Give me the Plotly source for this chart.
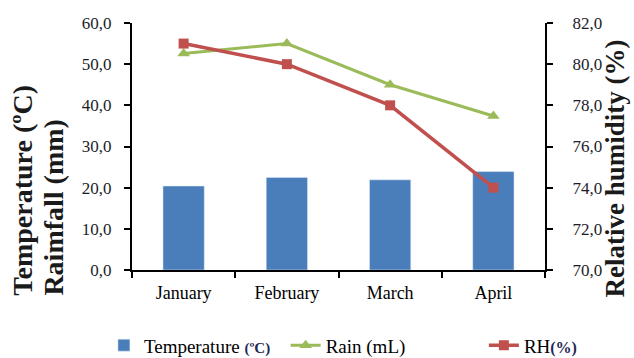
import plotly.graph_objects as go

months = ["January", "February", "March", "April"]
temperature = [20.4, 22.5, 21.9, 23.9]
rain = [52.6, 55.0, 45.0, 37.4]
rh = [81.0, 80.0, 78.0, 74.0]

left_ticks = [0, 10, 20, 30, 40, 50, 60]
right_ticks = [70, 72, 74, 76, 78, 80, 82]

SERIF = "Liberation Serif"
TICK_COLOR = "#1c1c28"
UNIT_COLOR = "#1f2a55"
TITLE_FONT = dict(family=SERIF, size=28, color="#1a1a1a")

fig = go.Figure()

fig.add_trace(go.Bar(
    x=months, y=temperature,
    name=f"Temperature <b><span style='font-size:15px;color:{UNIT_COLOR}'>(ºC)</span></b>",
    marker=dict(color="#4a7ebb"),
    yaxis="y", legend="legend",
))
fig.add_trace(go.Scatter(
    x=months, y=rain, name="Rain (mL)", mode="lines+markers",
    line=dict(color="#9bbb59", width=3),
    marker=dict(symbol="triangle-up", size=11, color="#9bbb59"),
    yaxis="y", legend="legend2",
))
fig.add_trace(go.Scatter(
    x=months, y=rh, name=f"RH<b><span style='font-size:16px;color:{UNIT_COLOR}'>(%)</span></b>",
    mode="lines+markers",
    line=dict(color="#c0504d", width=3.5),
    marker=dict(symbol="square", size=10, color="#c0504d"),
    yaxis="y2", legend="legend3",
))

legend_style = dict(
    orientation="h", xanchor="left", y=-0.228, yanchor="top",
    font=dict(family=SERIF, size=19, color="black"),
    bgcolor="rgba(0,0,0,0)",
)

fig.update_layout(
    width=634, height=358,
    margin=dict(l=132, r=89, t=23, b=88, autoexpand=False),
    paper_bgcolor="white", plot_bgcolor="white",
    separators=", ",
    font=dict(family=SERIF, color="black"),
    bargap=0.6,
    showlegend=True,
    legend=dict(legend_style, x=-0.068),
    legend2=dict(legend_style, x=0.372),
    legend3=dict(legend_style, x=0.852),
    xaxis=dict(
        type="category", showline=True, linecolor="black", linewidth=2,
        ticks="outside", tickson="boundaries", ticklen=6, tickwidth=2, tickcolor="black",
        tickfont=dict(family=SERIF, size=18, color="black"),
        ticklabelstandoff=5,
        showgrid=False, zeroline=False,
    ),
    yaxis=dict(
        range=[0, 60], tickvals=left_ticks, tickformat=".1f",
        showline=True, linecolor="black", linewidth=2,
        ticks="outside", ticklen=6, tickwidth=2, tickcolor="black",
        tickfont=dict(family=SERIF, size=17, color=TICK_COLOR),
        ticklabelstandoff=9,
        showgrid=False, zeroline=False,
    ),
    yaxis2=dict(
        range=[70, 82], tickvals=right_ticks, tickformat=".1f",
        overlaying="y", side="right",
        showline=True, linecolor="black", linewidth=2,
        ticks="outside", ticklen=6, tickwidth=2, tickcolor="black",
        tickfont=dict(family=SERIF, size=17, color=TICK_COLOR),
        ticklabelstandoff=16,
        showgrid=False, zeroline=False,
    ),
    annotations=[
        dict(
            text="<b>Temperature (ºC)</b>",
            xref="paper", yref="paper", x=-0.264, y=-0.11,
            xanchor="center", yanchor="bottom", textangle=-90,
            showarrow=False, font=TITLE_FONT,
        ),
        dict(
            text="<b>Raimfall (mm)</b>",
            xref="paper", yref="paper", x=-0.189, y=-0.11,
            xanchor="center", yanchor="bottom", textangle=-90,
            showarrow=False, font=TITLE_FONT,
        ),
        dict(
            text="<b>Relative humidity (%)</b>",
            xref="paper", yref="paper", x=1.169, y=0.41,
            xanchor="center", yanchor="middle", textangle=-90,
            showarrow=False, font=dict(TITLE_FONT, size=27),
        ),
    ],
)

fig.write_html("out.html")
